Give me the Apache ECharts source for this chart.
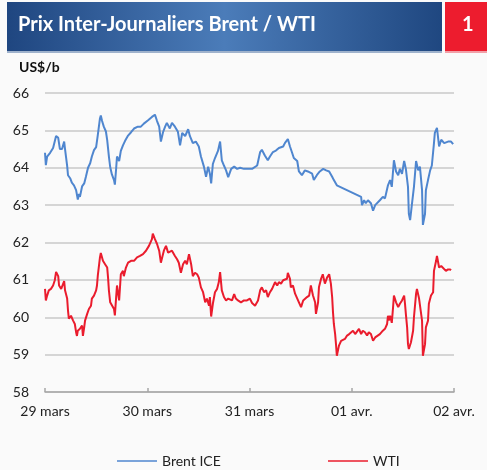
<!DOCTYPE html>
<html>
<head>
<meta charset="utf-8">
<script src="https://cdn.jsdelivr.net/npm/echarts@6/dist/echarts.min.js"></script>
<style>
  html, body { margin: 0; padding: 0; background: #fafafa; }
  #chart { width: 487px; height: 470px; }
</style>
</head>
<body>
<div id="chart"></div>
<script>
// heures depuis le 29 mars 00:00
const xLabels = ['29 mars', '30 mars', '31 mars', '01 avr.', '02 avr.'];

const brentHours = [
  0.0, 0.2, 0.5, 1.2, 1.9, 2.3, 2.6, 3.1, 3.5, 4.0, 4.5, 4.7, 5.2, 5.4, 5.9, 6.3, 6.8, 7.3, 7.7, 8.0,
  8.2, 8.7, 9.2, 9.6, 10.1, 10.6, 11.0, 11.5, 12.0, 12.4, 12.9, 13.1, 13.4, 13.8, 14.3, 14.6, 15.0, 15.3, 15.7, 16.2,
  16.4, 16.7, 16.9, 17.4, 17.8, 18.3, 18.8, 19.5, 20.2, 20.9, 21.8, 22.5, 23.2, 24.2, 25.1, 25.8, 26.3, 26.8, 27.2, 27.7,
  28.2, 28.6, 29.3, 29.8, 30.5, 31.2, 31.7, 32.2, 32.9, 33.6, 34.0, 34.7, 35.4, 36.1, 36.6, 37.3, 37.8, 38.3, 38.7, 39.0,
  39.4, 39.9, 40.6, 41.1, 41.5, 42.0, 42.5, 43.0, 43.7, 44.4, 45.1, 45.8, 46.7, 47.4, 48.6, 49.8, 50.5, 50.9, 51.6, 52.3,
  52.8, 53.5, 54.2, 54.9, 55.9, 56.3, 57.0, 57.5, 58.0, 58.4, 59.2, 59.6, 60.3, 61.0, 61.7, 62.7, 63.1, 63.8, 64.5, 65.3,
  66.0, 66.7, 67.4, 67.8, 68.5, 74.2, 74.4, 74.9, 75.3, 75.8, 76.5, 77.0, 77.5, 77.9, 78.6, 79.3, 79.8, 80.5, 81.0, 81.4,
  81.9, 82.4, 82.9, 83.3, 83.8, 84.3, 84.7, 85.2, 85.4, 85.7, 86.1, 86.6, 87.1, 87.6, 88.0, 88.5, 88.7, 89.2, 89.4, 89.9,
  90.4, 90.8, 91.3, 91.5, 92.0, 92.5, 93.0, 93.7, 94.6, 95.3, 95.8
];
const brentValues = [
  64.40, 64.07, 64.30, 64.40, 64.53, 64.50, 64.85, 64.80, 64.50, 64.50, 64.70, 64.50, 64.05, 63.80, 63.72, 63.60, 63.53, 63.40, 63.15, 63.30,
  63.22, 63.50, 63.58, 63.76, 64.00, 64.12, 64.30, 64.47, 64.55, 64.88, 65.32, 65.40, 65.25, 65.10, 64.97, 64.74, 64.30, 64.02, 63.82, 63.67,
  63.55, 63.98, 64.30, 64.18, 64.45, 64.60, 64.72, 64.86, 64.95, 65.05, 65.10, 65.10, 65.18, 65.27, 65.36, 65.42, 65.25, 65.10, 64.70, 64.95,
  65.10, 65.20, 65.05, 65.20, 65.10, 64.96, 64.60, 64.93, 64.85, 65.03, 64.85, 64.66, 64.70, 64.57, 64.30, 64.03, 63.76, 64.03, 63.84, 63.58,
  64.10, 64.26, 64.45, 64.70, 64.20, 64.06, 63.93, 63.75, 63.97, 64.03, 63.97, 64.00, 63.97, 63.97, 63.97, 64.06, 64.42, 64.48, 64.33, 64.20,
  64.30, 64.42, 64.46, 64.53, 64.57, 64.66, 64.77, 64.57, 64.40, 64.26, 64.18, 63.90, 63.80, 63.93, 63.90, 63.84, 63.67, 63.80, 63.90, 63.97,
  63.93, 63.90, 63.76, 63.67, 63.53, 63.22, 63.00, 63.13, 63.05, 63.13, 63.05, 62.85, 63.00, 63.05, 63.13, 63.22, 63.18, 63.53, 63.67, 63.49,
  64.20, 63.90, 63.80, 63.97, 63.84, 64.18, 63.97, 63.49, 62.77, 62.60, 63.00, 63.49, 64.18, 63.93, 64.03, 63.40, 62.47, 62.77, 63.40, 63.67,
  63.93, 64.06, 64.66, 64.93, 65.07, 64.57, 64.75, 64.66, 64.70, 64.70, 64.63
];

const wtiHours = [
  0.0, 0.2, 0.5, 0.9, 1.4, 1.9, 2.3, 2.6, 3.1, 3.3, 3.8, 4.2, 4.5, 4.7, 5.2, 5.4, 5.6, 6.1, 6.6, 7.0,
  7.3, 7.5, 7.7, 8.2, 8.7, 8.9, 9.2, 9.4, 9.9, 10.3, 10.8, 11.0, 11.5, 12.0, 12.2, 12.4, 12.9, 13.1, 13.6, 14.1,
  14.6, 14.8, 15.0, 15.3, 15.7, 16.2, 16.4, 16.7, 16.9, 17.4, 17.8, 18.3, 18.5, 19.0, 19.5, 20.2, 20.9, 21.6, 22.3, 23.0,
  23.7, 24.4, 25.1, 25.3, 25.8, 26.3, 26.8, 27.2, 27.5, 27.9, 28.4, 28.9, 29.3, 29.8, 30.5, 31.0, 31.4, 31.9, 32.4, 32.9,
  33.3, 33.8, 34.3, 34.7, 35.2, 35.7, 36.1, 36.6, 37.1, 37.6, 38.0, 38.5, 38.7, 39.0, 39.4, 39.9, 40.4, 40.8, 41.1, 41.5,
  42.0, 42.5, 43.0, 43.4, 43.9, 44.4, 44.8, 45.3, 46.0, 46.7, 47.4, 48.1, 48.6, 49.3, 50.0, 50.5, 50.9, 51.4, 51.9, 52.3,
  52.8, 53.3, 54.0, 54.5, 54.9, 55.4, 55.9, 56.3, 56.8, 57.0, 57.5, 57.7, 58.2, 58.7, 59.1, 59.6, 60.1, 60.6, 61.0, 61.5,
  62.0, 62.4, 62.9, 63.4, 63.6, 64.1, 64.3, 64.8, 65.2, 65.7, 66.2, 66.7, 67.1, 67.4, 67.6, 67.8, 68.1, 68.3, 68.5, 69.0,
  69.5, 69.9, 70.4, 70.9, 71.4, 71.8, 72.3, 72.8, 73.2, 73.7, 74.2, 74.6, 75.1, 75.6, 76.0, 76.5, 77.0, 77.5, 77.9, 78.6,
  79.3, 79.8, 80.3, 80.5, 80.7, 81.0, 81.4, 81.7, 81.9, 82.4, 82.9, 83.3, 83.8, 84.3, 84.5, 84.7, 85.0, 85.2, 85.4, 85.9,
  86.4, 86.6, 87.1, 87.3, 87.8, 88.2, 88.5, 88.7, 89.2, 89.4, 89.9, 90.1, 90.6, 91.1, 91.3, 91.8, 92.0, 92.5, 93.0, 93.4,
  94.1, 94.6, 95.1, 95.3
];
const wtiValues = [
  60.76, 60.45, 60.58, 60.72, 60.76, 60.85, 60.99, 61.21, 61.10, 60.85, 60.76, 60.80, 60.97, 60.72, 60.50, 60.18, 59.96, 60.04, 59.91, 59.82,
  59.60, 59.50, 59.64, 59.69, 59.78, 59.50, 59.73, 59.91, 60.09, 60.22, 60.31, 60.50, 60.58, 60.72, 60.85, 61.12, 61.60, 61.72, 61.51, 61.42,
  61.33, 61.06, 60.72, 60.40, 60.45, 60.22, 60.05, 60.54, 60.85, 60.45, 61.15, 61.24, 61.10, 61.33, 61.46, 61.51, 61.51, 61.60, 61.64, 61.69,
  61.78, 61.91, 62.09, 62.24, 62.09, 61.96, 61.78, 61.46, 61.60, 61.78, 61.91, 61.73, 61.73, 61.78, 61.64, 61.55, 61.46, 61.19, 61.42, 61.51,
  61.42, 61.69, 61.42, 61.10, 61.19, 61.15, 61.06, 60.80, 60.67, 60.40, 60.50, 60.31, 60.54, 60.02, 60.36, 60.67, 60.76, 60.94, 61.21, 60.72,
  60.54, 60.45, 60.50, 60.54, 60.45, 60.62, 60.50, 60.45, 60.40, 60.45, 60.45, 60.50, 60.38, 60.31, 60.45, 60.72, 60.80, 60.67, 60.72, 60.54,
  60.67, 60.76, 60.94, 60.85, 60.94, 60.90, 60.99, 60.99, 61.03, 61.19, 61.03, 60.80, 60.85, 60.63, 60.58, 60.40, 60.27, 60.45, 60.40, 60.54,
  60.58, 60.85, 60.58, 60.40, 60.09, 60.40, 60.80, 61.03, 61.15, 60.90, 61.06, 61.15, 60.90, 60.54, 60.13, 59.82, 59.55, 59.28, 58.97, 59.24,
  59.37, 59.42, 59.42, 59.51, 59.55, 59.55, 59.64, 59.55, 59.60, 59.69, 59.55, 59.64, 59.60, 59.51, 59.60, 59.55, 59.37, 59.46, 59.51, 59.55,
  59.64, 59.69, 59.82, 60.04, 59.91, 60.04, 59.85, 60.27, 60.58, 60.40, 60.27, 60.36, 60.45, 60.58, 60.36, 60.09, 59.73, 59.28, 59.15, 59.33,
  59.64, 60.00, 60.63, 60.76, 60.50, 60.45, 59.91, 58.97, 59.28, 59.73, 59.91, 60.36, 60.58, 60.67, 61.24, 61.51, 61.64, 61.33, 61.37, 61.33,
  61.24, 61.28, 61.28, 61.26
];

const chart = echarts.init(document.getElementById('chart'));
const font = 'Lato';

chart.setOption({
  backgroundColor: '#fafafa',
  animation: false,
  textStyle: { fontFamily: font },
  graphic: [
    {
      type: 'rect',
      shape: { x: 7, y: 2, width: 435, height: 49 },
      style: {
        fill: {
          type: 'linear', x: 0, y: 0, x2: 1, y2: 0,
          colorStops: [
            { offset: 0, color: '#1f4680' },
            { offset: 0.5, color: '#4b7cb9' },
            { offset: 1, color: '#1f4780' }
          ]
        }
      }
    },
    { type: 'rect', shape: { x: 7, y: 51, width: 435, height: 2 }, style: { fill: '#9fb2cc' } },
    { type: 'rect', shape: { x: 445, y: 2, width: 42, height: 49 }, style: { fill: '#ed1c2e' } },
    { type: 'rect', shape: { x: 445, y: 51, width: 42, height: 2 }, style: { fill: '#f2a0a8' } },
    {
      type: 'text', left: 18, top: 15,
      style: { text: 'Prix Inter-Journaliers Brent / WTI', fill: '#fff', font: 'bold 20px ' + font }
    },
    {
      type: 'text', left: 462, top: 15,
      style: { text: '1', fill: '#fff', font: 'bold 20px ' + font }
    },
    {
      type: 'text', left: 19, top: 60,
      style: { text: 'US$/b', fill: '#111', font: 'bold 14px ' + font }
    }
  ],
  grid: { left: 45, right: 33, top: 93, bottom: 78 },
  xAxis: {
    type: 'value',
    min: 0,
    max: 96,
    interval: 24,
    axisLine: { lineStyle: { color: '#a6a6a6', width: 1.5 } },
    axisTick: { show: true, length: 4, inside: true, lineStyle: { color: '#a6a6a6', width: 1.5 } },
    splitLine: { show: false },
    axisLabel: {
      color: '#222',
      fontSize: 14,
      margin: 12,
      formatter: v => xLabels[v / 24]
    }
  },
  yAxis: {
    type: 'value',
    min: 58,
    max: 66,
    interval: 1,
    axisLine: { show: false },
    axisTick: { show: false },
    splitLine: { lineStyle: { color: '#c8c8c8', width: 1.5 } },
    axisLabel: { color: '#222', fontSize: 14, margin: 16 }
  },
  legend: [
    {
      data: ['Brent ICE'], left: 112, top: 449,
      icon: 'rect', itemWidth: 40, itemHeight: 1.5, itemGap: 6,
      textStyle: { color: '#222', fontSize: 14, fontFamily: font }
    },
    {
      data: ['WTI'], left: 323, top: 449,
      icon: 'rect', itemWidth: 40, itemHeight: 1.5, itemGap: 4,
      textStyle: { color: '#222', fontSize: 14, fontFamily: font }
    }
  ],
  series: [
    {
      name: 'Brent ICE',
      type: 'line',
      showSymbol: false,
      color: '#4f86cf',
      lineStyle: { width: 2, color: '#4f86cf' },
      data: brentHours.map((h, i) => [h, brentValues[i]])
    },
    {
      name: 'WTI',
      type: 'line',
      showSymbol: false,
      color: '#ea1c2d',
      lineStyle: { width: 2, color: '#ea1c2d' },
      data: wtiHours.map((h, i) => [h, wtiValues[i]])
    }
  ]
});
</script>
</body>
</html>
